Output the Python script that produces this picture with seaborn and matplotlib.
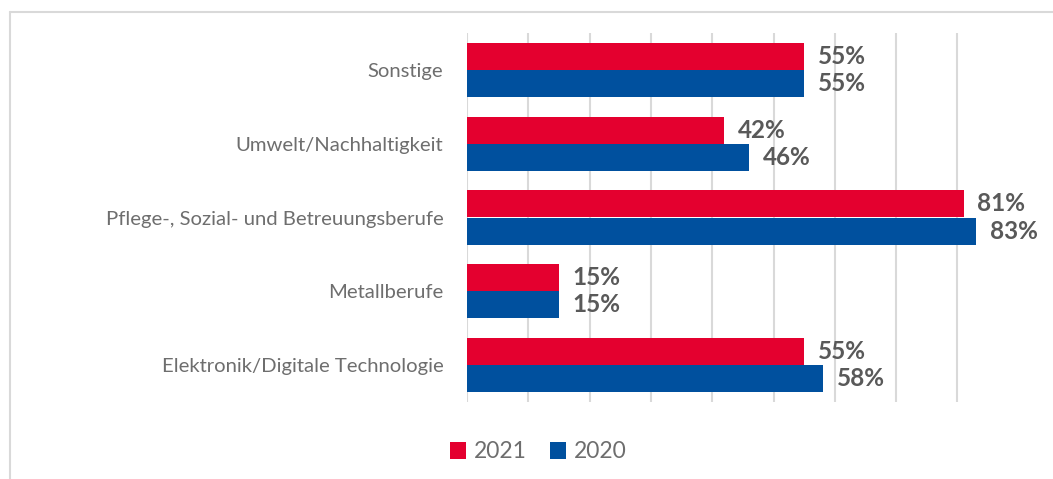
import matplotlib

matplotlib.use("Agg")

import matplotlib.pyplot as plt
import pandas as pd
import seaborn as sns
from matplotlib.lines import Line2D

categories = [
    "Sonstige",
    "Umwelt/Nachhaltigkeit",
    "Pflege-, Sozial- und Betreuungsberufe",
    "Metallberufe",
    "Elektronik/Digitale Technologie",
]
values_2021 = [0.55, 0.42, 0.81, 0.15, 0.55]
values_2020 = [0.55, 0.46, 0.83, 0.15, 0.58]
years = ["2021", "2020"]
grid_ticks = [0.0, 0.1, 0.2, 0.3, 0.4, 0.5, 0.6, 0.7, 0.8]

RED = "#E4002F"
BLUE = "#00509E"
DARK_GREY = "#595959"
LABEL_GREY = "#6e6e6e"

df = pd.DataFrame({
    "Kategorie": categories * 2,
    "Anteil": values_2021 + values_2020,
    "Jahr": [years[0]] * len(categories) + [years[1]] * len(categories),
})

sns.set_theme(style="white")
plt.rcParams["font.family"] = ["Lato", "DejaVu Sans"]

fig = plt.figure(figsize=(10.53, 4.79), dpi=100)
ax = fig.add_axes([467 / 1053, 1 - 402 / 479, 0.5123, 369 / 479])

sns.barplot(
    data=df, y="Kategorie", x="Anteil", hue="Jahr", order=categories,
    hue_order=years, palette=[RED, BLUE], orient="h", width=0.736,
    linewidth=0, saturation=1, ax=ax,
)

for container in ax.containers:
    ax.bar_label(
        container, labels=[f"{v * 100:.0f}%" for v in container.datavalues],
        padding=10, fontsize=17.5, fontweight="bold", color=DARK_GREY, clip_on=False,
    )

ax.set_xlim(0, 0.88)
ax.set_ylim(4.5, -0.5)
ax.set_xticks(grid_ticks)
ax.set_xticklabels([])
ax.grid(axis="x", color="#d9d9d9", linewidth=1.5)
ax.set_axisbelow(True)
ax.tick_params(axis="x", length=0)
ax.tick_params(axis="y", length=0, pad=17, labelsize=14.6, labelcolor=LABEL_GREY)
ax.set_xlabel("")
ax.set_ylabel("")
for spine in ax.spines.values():
    spine.set_visible(False)

handles, labels = ax.get_legend_handles_labels()
ax.get_legend().remove()
fig.legend(
    handles, labels, loc="center", bbox_to_anchor=(538 / 1053, 1 - 452 / 479),
    ncol=2, frameon=False, fontsize=16.5, labelcolor=LABEL_GREY, handlelength=0.7,
    handleheight=0.7, handletextpad=0.35, columnspacing=1.0,
)

# chart frame (only left and top edges visible in the crop)
fig.add_artist(Line2D([9.5 / 1053, 9.5 / 1053], [0, 1 - 12 / 479],
                      color="#d9d9d9", linewidth=1.5))
fig.add_artist(Line2D([9.5 / 1053, 1], [1 - 12 / 479, 1 - 12 / 479],
                      color="#d9d9d9", linewidth=1.5))

fig.savefig("out.png", dpi=100)
plt.close(fig)
